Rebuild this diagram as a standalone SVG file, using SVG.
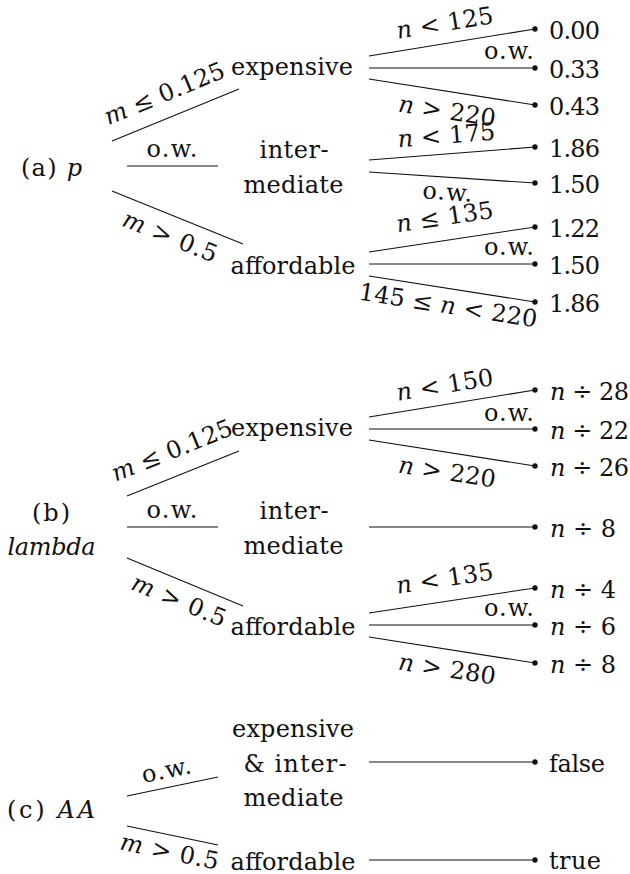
<svg xmlns="http://www.w3.org/2000/svg" width="630" height="874" viewBox="0 0 630 874">
<style>
text{font-family:"DejaVu Serif","Liberation Serif",serif;font-size:24px;fill:#111}
.m{text-anchor:middle}
.i{font-style:italic}
.e{stroke:#111;stroke-width:1.1;fill:none}
.d{fill:#111}
</style>
<defs><circle id="dot" r="2.7" class="d"/></defs>

<g id="connectors">
  <path class="e" d="M112,141L239,89M127,166L218,166M112,191L243,244
  M369,56L535,29M369,68L535,68M369,79L535,105
  M369,160L535,147M369,172L535,183
  M369,252L535,227M369,264L535,264M369,276L535,302"/>
  <path class="e" d="M127,496L239,451M127,527L218,527M127,558L243,606
  M369,417L535,390M369,429L535,429M369,440L535,466
  M369,527L535,527
  M369,613L535,588M369,625L535,625M369,637L535,663"/>
  <path class="e" d="M127,796L218,777M127,826L218,845M369,762L535,762M369,860L535,860"/>
  <g id="edge-labels">
    <text class="m" transform="translate(167.5,101) rotate(-22.3)" textLength="128"><tspan class="i">m</tspan> ≤ 0.125</text>
    <text class="m" x="172" y="157" textLength="51">o.w.</text>
    <text class="m" transform="translate(167,244) rotate(22)" textLength="100"><tspan class="i">m</tspan> &gt; 0.5</text>
    <text class="m" transform="translate(446,31) rotate(-9.24)" textLength="98"><tspan class="i">n</tspan> &lt; 125</text>
    <text class="m" x="509" y="59" textLength="50">o.w.</text>
    <text class="m" transform="translate(446,119) rotate(8.9)" textLength="98"><tspan class="i">n</tspan> &gt; 220</text>
    <text class="m" transform="translate(447,143.5) rotate(-4.48)" textLength="98"><tspan class="i">n</tspan> &lt; 175</text>
    <text class="m" transform="translate(447,200) rotate(3.8)" textLength="50">o.w.</text>
    <text class="m" transform="translate(446,225) rotate(-8.56)" textLength="98"><tspan class="i">n</tspan> ≤ 135</text>
    <text class="m" x="509" y="254.5" textLength="50">o.w.</text>
    <text class="m" transform="translate(447,313.5) rotate(8.9)" textLength="180">145 ≤ <tspan class="i">n</tspan> &lt; 220</text>

    <text class="m" transform="translate(175,458) rotate(-21.9)" textLength="128"><tspan class="i">m</tspan> ≤ 0.125</text>
    <text class="m" x="172" y="518" textLength="51">o.w.</text>
    <text class="m" transform="translate(176,608) rotate(22.5)" textLength="100"><tspan class="i">m</tspan> &gt; 0.5</text>
    <text class="m" transform="translate(446,393) rotate(-9.24)" textLength="98"><tspan class="i">n</tspan> &lt; 150</text>
    <text class="m" x="509" y="420.5" textLength="50">o.w.</text>
    <text class="m" transform="translate(446,480) rotate(8.9)" textLength="98"><tspan class="i">n</tspan> &gt; 220</text>
    <text class="m" transform="translate(446,586.5) rotate(-8.56)" textLength="98"><tspan class="i">n</tspan> &lt; 135</text>
    <text class="m" x="509" y="615.5" textLength="50">o.w.</text>
    <text class="m" transform="translate(446,677) rotate(8.9)" textLength="98"><tspan class="i">n</tspan> &gt; 280</text>

    <text class="m" transform="translate(168,778) rotate(-11.8)" textLength="50">o.w.</text>
    <text class="m" transform="translate(168,859.5) rotate(11.8)" textLength="100"><tspan class="i">m</tspan> &gt; 0.5</text>
  </g>
</g>

<!-- (a) -->
<g id="a-root"><text x="21" y="176" textLength="61">(a) <tspan class="i">p</tspan></text></g>
<g id="a-expensive"><text class="m" x="292" y="75" textLength="122">expensive</text></g>
<g id="a-intermediate"><text class="m" x="294" y="158" textLength="69">inter-</text><text class="m" x="293.5" y="193" textLength="100">mediate</text></g>
<g id="a-affordable"><text class="m" x="293" y="274" textLength="125">affordable</text></g>
<g id="a-leaf1"><use href="#dot" x="535" y="29"/><text x="549" y="38.5" textLength="51">0.00</text></g>
<g id="a-leaf2"><use href="#dot" x="535" y="68"/><text x="549" y="77.5" textLength="51">0.33</text></g>
<g id="a-leaf3"><use href="#dot" x="535" y="105"/><text x="549" y="114.5" textLength="51">0.43</text></g>
<g id="a-leaf4"><use href="#dot" x="535" y="147"/><text x="549" y="156.5" textLength="51">1.86</text></g>
<g id="a-leaf5"><use href="#dot" x="535" y="183"/><text x="549" y="192.5" textLength="51">1.50</text></g>
<g id="a-leaf6"><use href="#dot" x="535" y="227"/><text x="549" y="236.5" textLength="51">1.22</text></g>
<g id="a-leaf7"><use href="#dot" x="535" y="264"/><text x="549" y="273.5" textLength="51">1.50</text></g>
<g id="a-leaf8"><use href="#dot" x="535" y="302"/><text x="549" y="311.5" textLength="51">1.86</text></g>

<!-- (b) -->
<g id="b-root"><text class="m" x="51" y="521" textLength="38">(b)</text><text class="m i" x="51.5" y="555" textLength="88">lambda</text></g>
<g id="b-expensive"><text class="m" x="292" y="436" textLength="122">expensive</text></g>
<g id="b-intermediate"><text class="m" x="294" y="519" textLength="69">inter-</text><text class="m" x="293.5" y="554" textLength="100">mediate</text></g>
<g id="b-affordable"><text class="m" x="293" y="635" textLength="125">affordable</text></g>
<g id="b-leaf1"><use href="#dot" x="535" y="390"/><text x="550" y="399.5" textLength="79"><tspan class="i">n</tspan> ÷ 28</text></g>
<g id="b-leaf2"><use href="#dot" x="535" y="429"/><text x="550" y="438.5" textLength="79"><tspan class="i">n</tspan> ÷ 22</text></g>
<g id="b-leaf3"><use href="#dot" x="535" y="466"/><text x="550" y="475.5" textLength="79"><tspan class="i">n</tspan> ÷ 26</text></g>
<g id="b-leaf4"><use href="#dot" x="535" y="527"/><text x="550" y="536.5" textLength="66"><tspan class="i">n</tspan> ÷ 8</text></g>
<g id="b-leaf5"><use href="#dot" x="535" y="588"/><text x="550" y="597.5" textLength="66"><tspan class="i">n</tspan> ÷ 4</text></g>
<g id="b-leaf6"><use href="#dot" x="535" y="625"/><text x="550" y="634.5" textLength="66"><tspan class="i">n</tspan> ÷ 6</text></g>
<g id="b-leaf7"><use href="#dot" x="535" y="663"/><text x="550" y="672.5" textLength="66"><tspan class="i">n</tspan> ÷ 8</text></g>

<!-- (c) -->
<g id="c-root"><text x="7" y="818" textLength="88">(c) <tspan class="i">AA</tspan></text></g>
<g id="c-exp-int"><text class="m" x="293" y="737" textLength="122">expensive</text><text class="m" x="295" y="771.5" textLength="103">&amp; inter-</text><text class="m" x="293.5" y="805.5" textLength="100">mediate</text></g>
<g id="c-affordable"><text class="m" x="293" y="869.5" textLength="125">affordable</text></g>
<g id="c-leaf1"><use href="#dot" x="535" y="762"/><text x="549" y="772" textLength="56">false</text></g>
<g id="c-leaf2"><use href="#dot" x="535" y="860"/><text x="549" y="869" textLength="52">true</text></g>
</svg>
